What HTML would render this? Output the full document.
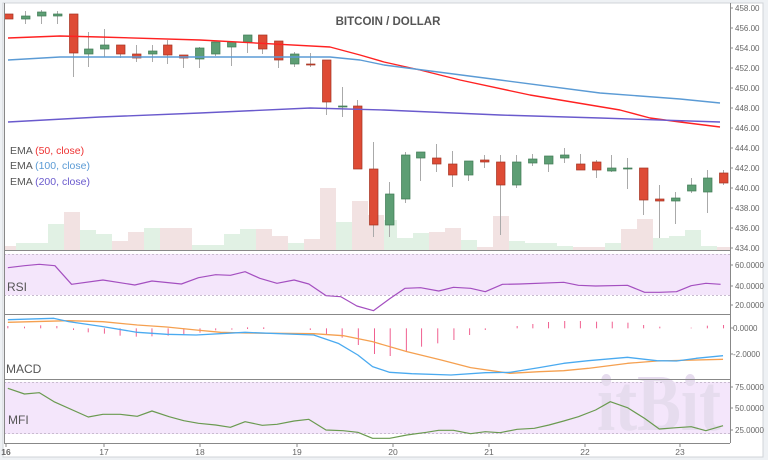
<!DOCTYPE html>
<html><head><meta charset="utf-8"><style>
html,body{margin:0;padding:0;background:#eef1f4;}
svg{display:block;font-family:"Liberation Sans",sans-serif;}
</style></head><body>
<svg id="s" width="768" height="460" xmlns="http://www.w3.org/2000/svg">
<rect x="3" y="3" width="760" height="454" fill="#fff" stroke="#d0d4d8"/>
<g id="vol"></g>
<rect x="4" y="254" width="726" height="41" fill="#f4e6fb"/>
<line x1="4" x2="730" y1="254.5" y2="254.5" stroke="#c9bcd0" stroke-dasharray="2,2"/>
<line x1="4" x2="730" y1="295.5" y2="295.5" stroke="#c9bcd0" stroke-dasharray="2,2"/>
<rect x="4" y="382" width="726" height="52" fill="#f4e6fb"/>
<line x1="4" x2="730" y1="382.5" y2="382.5" stroke="#c9bcd0" stroke-dasharray="2,2"/>
<line x1="4" x2="730" y1="433.5" y2="433.5" stroke="#c9bcd0" stroke-dasharray="2,2"/>
<text x="597" y="430" font-family="Liberation Serif,serif" font-weight="bold" font-size="80" fill="#e6dcee" textLength="124" lengthAdjust="spacingAndGlyphs">itBit</text>
<g id="g"></g>
<g stroke="#888" stroke-width="1" fill="none">
<line x1="4.5" y1="3" x2="4.5" y2="443"/>
<line x1="730.5" y1="3" x2="730.5" y2="443"/>
<line x1="4" y1="250.5" x2="730" y2="250.5"/>
<line x1="4" y1="314.5" x2="730" y2="314.5"/>
<line x1="4" y1="379.5" x2="730" y2="379.5"/>
<line x1="4" y1="443.5" x2="730" y2="443.5"/>
</g>
<text x="388" y="25" text-anchor="middle" font-size="11.5" font-weight="bold" fill="#555">BITCOIN / DOLLAR</text>
<g font-size="10.5" fill="#555">
<text x="10" y="154">EMA <tspan fill="#e33">(50, close)</tspan></text>
<text x="10" y="169">EMA <tspan fill="#5b9bd5">(100, close)</tspan></text>
<text x="10" y="185">EMA <tspan fill="#6a5acd">(200, close)</tspan></text>
</g>
<g font-size="12" fill="#555">
<text x="7" y="291">RSI</text>
<text x="6" y="373">MACD</text>
<text x="8" y="424">MFI</text>
</g>
<g id="ax" font-size="8" fill="#666"></g>
</svg>
<script>
var N="http://www.w3.org/2000/svg";var XF=2.04;
function el(p,t,a,txt){var e=document.createElementNS(N,t);for(var k in a)e.setAttribute(k,a[k]);if(txt!=null)e.textContent=txt;document.getElementById(p).appendChild(e);return e;}
var vol=[[0,16,246,'r'],[16,48,243,'g'],[48,64,224,'g'],[64,80,212,'r'],[80,96,230,'g'],[96,112,234,'g'],[112,128,241,'r'],[128,144,232,'r'],[144,160,228,'g'],[160,192,228,'r'],[192,224,245,'g'],[224,240,234,'g'],[240,256,229,'g'],[256,272,229,'r'],[272,288,236,'r'],[288,304,243,'g'],[304,320,239,'r'],[320,336,188,'r'],[336,352,222,'g'],[352,368,201,'r'],[368,384,215,'r'],[384,397,220,'g'],[397,413,238,'g'],[413,429,233,'g'],[429,445,232,'r'],[445,461,228,'r'],[461,477,240,'g'],[477,493,247,'r'],[493,509,216,'r'],[509,525,241,'g'],[525,541,243,'g'],[541,557,243,'g'],[557,573,246,'g'],[573,589,247,'r'],[589,605,247,'r'],[605,621,243,'g'],[621,637,229,'r'],[637,653,219,'r'],[653,669,238,'g'],[669,685,236,'g'],[685,701,230,'g'],[701,717,246,'g'],[717,730,247,'r']];
vol.forEach(function(v){el('vol','rect',{x:Math.max(v[0],4),y:v[2],width:v[1]-Math.max(v[0],4),height:250-v[2],fill:v[3]=='g'?'#e1f1e4':'#f2e2e2'});});
var C=[[4,14,19,14,19,'r'],[21,16,19,11,24,'g'],[37,12,16,10,24,'g'],[53,14,16,11,24,'g'],[69,14,53,14,77,'r'],[84,49,54,32,67,'g'],[100,45,49,29,57,'g'],[116,45,54,45,58,'r'],[132,54,58,45,62,'r'],[148,51,54,45,62,'g'],[163,45,55,40,64,'r'],[179,55,58,55,68,'r'],[195,48,59,47,68,'g'],[211,42,54,42,56,'g'],[227,42,47,42,66,'g'],[243,35,42,35,53,'g'],[258,35,49,35,54,'r'],[274,41,60,41,68,'r'],[290,54,64,52,67,'g'],[306,64,64.5,53,67,'r'],[322,60,102,60,115,'r'],[338,106,107,87,117,'g'],[353,106,169,100,169,'r'],[369,169,225,142,237,'r'],[385,194,225,182,237,'g'],[401,155,199,152,203,'g'],[416,152,158,152,181,'g'],[432,158,164,144,172,'r'],[448,164,175,151,187,'r'],[464,161,175,161,181,'g'],[480,160,162,155,168,'r'],[496,162,185,155,235,'r'],[512,162,185,155,188,'g'],[528,159,163,154,166,'g'],[544,156,164,156,172,'g'],[560,155,158,148,163,'g'],[576,164,170,154,170,'r'],[592,162,170,160,178,'r'],[607,168,171,155,172,'g'],[623,168,168.6,158,189,'g'],[639,168,200,168,215,'r'],[655,199,201,185,238,'r'],[671,198,201,192,224,'g'],[687,185,191,178,193,'g'],[703,178,192,170,213,'g'],[719,173,183,170,185,'r']];
C.forEach(function(c){var cx=c[0]+4.5;var col=c[5]=='g'?'#5d9e74':'#de4b35';var st=c[5]=='g'?'#3f7a55':'#a33322';
el('g','line',{x1:cx,x2:cx,y1:c[3],y2:c[4],stroke:'#aaa','stroke-width':1});
el('g','rect',{x:c[0]+0.5,y:c[1],width:8.5,height:Math.max(c[2]-c[1],1),fill:col,stroke:st,'stroke-width':0.7});});
function pl(pts,col,w,sx){el('g','polyline',{points:pts.map(function(p){return sx?(p[0]/XF)+','+(p[1]/3+245):p.join(',')}).join(' '),fill:'none',stroke:col,'stroke-width':w||1.3,'stroke-linejoin':'round'});}
pl([[8,38],[60,36],[100,37],[200,40],[330,47],[360,55],[384,62],[420,70],[460,80],[530,95],[620,110],[650,118],[680,122],[720,127]],'#f22',1.4);
pl([[8,60],[60,57],[200,57],[330,57],[360,60],[384,65],[500,80],[600,93],[680,99],[720,103]],'#5b9bd5',1.4);
pl([[8,122],[100,117],[200,113],[310,108],[384,110],[500,115],[600,118],[720,122]],'#6a5acd',1.4);
pl([[16,68],[50,62],[80,58],[112,62],[146,118],[210,105],[275,120],[310,108],[370,117],[405,98],[440,89],[470,91],[500,80],[530,100],[565,115],[600,105],[630,117],[665,152],[695,155],[728,183],[762,197],[796,160],[826,130],[858,128],[895,138],[925,127],[960,130],[990,140],[1025,118],[1060,117],[1150,112],[1180,121],[1215,123],[1280,121],[1315,142],[1345,142],[1380,140],[1410,122],[1440,115],[1470,118]],'#a44fc0',1.2,true);
var H=[[16,243,250],[50,245,250],[83,241,250],[116,243,250],[150,250,255],[180,250,262],[213,250,266],[245,250,272],[278,250,275],[310,250,274],[343,250,272],[375,250,268],[408,250,263],[440,250,256],[473,250,254],[505,247,252],[538,247,252],[633,250,255],[666,250,268],[698,250,278],[731,250,300],[764,250,327],[796,250,333],[829,250,321],[860,250,305],[893,250,295],[926,250,285],[958,250,270],[990,250,255],[1055,243,250],[1087,237,250],[1119,231,250],[1152,228,250],[1184,228,250],[1217,230,250],[1249,230,250],[1281,233,250],[1313,240,250],[1346,245,250],[1410,248,250],[1443,242,250],[1476,240,250]];
H.forEach(function(h){el('g','line',{x1:h[0]/XF,x2:h[0]/XF,y1:h[1]/3+245,y2:h[2]/3+245,stroke:'#f06090','stroke-width':1});});
pl([[16,232],[140,227],[210,230],[280,240],[340,246],[400,255],[450,262],[500,264],[640,266],[700,272],[760,290],[830,320],[900,345],[960,368],[1040,385],[1100,380],[1150,377],[1200,370],[1280,355],[1340,348],[1475,343]],'#f5a050',1.3,true);
pl([[16,224],[110,220],[140,230],[210,245],[280,262],[340,268],[400,270],[500,262],[640,270],[690,295],[730,330],[760,365],[795,382],[840,386],[920,390],[990,383],[1040,382],[1100,368],[1150,355],[1200,347],[1280,337],[1340,347],[1380,348],[1420,340],[1475,332]],'#4aaaf0',1.3,true);
pl([[16,430],[50,447],[80,443],[110,470],[180,516],[210,508],[245,508],[280,514],[310,498],[345,515],[375,527],[405,535],[440,540],[470,547],[500,530],[535,541],[565,538],[600,528],[630,523],[665,555],[700,557],[730,562],[760,580],[795,580],[830,570],[870,562],[895,556],[925,556],[960,566],[990,560],[1020,563],[1055,553],[1090,550],[1120,540],[1150,528],[1180,515],[1215,495],[1245,470],[1280,488],[1315,520],[1345,552],[1380,548],[1410,545],[1440,557],[1475,542]],'#6a9a50',1.2,true);
for(var p=458;p>=434;p-=2){var y=8+(458-p)*10;el('ax','line',{x1:730,x2:733,y1:y,y2:y,stroke:'#888'});el('ax','text',{x:735,y:y+3},p.toFixed(2));}
[[60,265],[40,286],[20,305]].forEach(function(a){el('ax','line',{x1:730,x2:733,y1:a[1],y2:a[1],stroke:'#888'});el('ax','text',{x:735,y:a[1]+3},a[0].toFixed(4));});
[['0.0000',328],['-2.0000',354]].forEach(function(a){el('ax','line',{x1:730,x2:733,y1:a[1],y2:a[1],stroke:'#888'});el('ax','text',{x:733,y:a[1]+3},a[0]);});
[[75,387],[50,408],[25,430]].forEach(function(a){el('ax','line',{x1:730,x2:733,y1:a[1],y2:a[1],stroke:'#888'});el('ax','text',{x:735,y:a[1]+3},a[0].toFixed(4));});
var D=[[16,6],[17,104],[18,200],[19,297],[20,393],[21,489],[22,585],[23,680]];
D.forEach(function(d){el('ax','line',{x1:d[1],x2:d[1],y1:443,y2:447,stroke:'#888'});el('ax','text',{x:d[1],y:455,'text-anchor':'middle','font-size':'8.5','font-weight':d[0]==16?'bold':'normal'},d[0]);});
</script>
</body></html>
